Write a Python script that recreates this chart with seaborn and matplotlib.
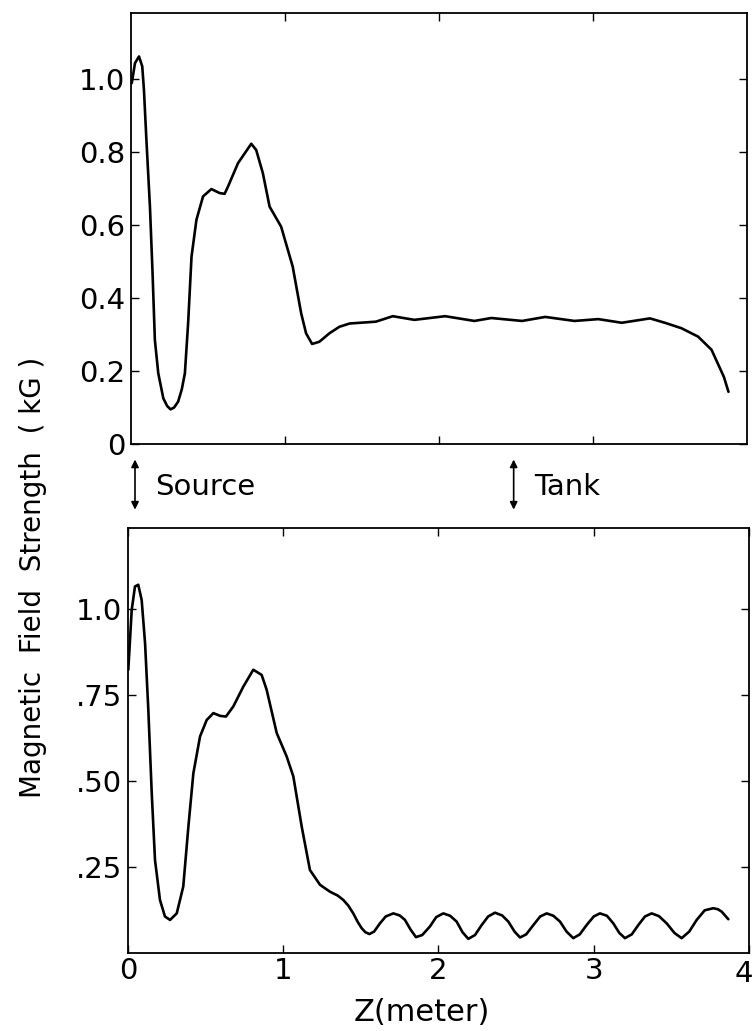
import numpy as np
import pandas as pd
import matplotlib
matplotlib.use("Agg")
import matplotlib.pyplot as plt
import seaborn as sns

# ---- data ----
z_top = [0.005, 0.026, 0.052, 0.073, 0.084, 0.10, 0.123, 0.14, 0.155, 0.177, 0.21, 0.235,
         0.257, 0.28, 0.306, 0.33, 0.35, 0.371, 0.393, 0.425, 0.468, 0.522, 0.576, 0.608,
         0.63, 0.695, 0.781, 0.813, 0.856, 0.90, 0.975, 1.05, 1.105, 1.137, 1.176, 1.223,
         1.288, 1.353, 1.42, 1.59, 1.70, 1.84, 2.04, 2.23, 2.34, 2.54, 2.69, 2.88, 3.035,
         3.187, 3.37, 3.467, 3.575, 3.683, 3.77, 3.81, 3.85, 3.88]
b_top = [0.988, 1.043, 1.061, 1.034, 0.970, 0.833, 0.650, 0.468, 0.285, 0.194, 0.125, 0.104,
         0.095, 0.100, 0.116, 0.150, 0.194, 0.331, 0.513, 0.614, 0.678, 0.698, 0.687, 0.685,
         0.705, 0.769, 0.822, 0.805, 0.742, 0.650, 0.595, 0.486, 0.358, 0.303, 0.274, 0.280,
         0.303, 0.321, 0.33, 0.335, 0.35, 0.34, 0.35, 0.337, 0.345, 0.337, 0.348, 0.337,
         0.342, 0.332, 0.344, 0.332, 0.317, 0.294, 0.258, 0.221, 0.184, 0.143]

z_bot = [0.002, 0.024, 0.045, 0.066, 0.088, 0.110, 0.131, 0.153, 0.174, 0.206, 0.238, 0.271,
         0.314, 0.356, 0.389, 0.421, 0.464, 0.507, 0.550, 0.593, 0.631, 0.678, 0.743, 0.807,
         0.861, 0.893, 0.958, 1.022, 1.065, 1.119, 1.172, 1.237, 1.301, 1.35, 1.387, 1.42,
         1.451, 1.48, 1.505, 1.53, 1.555, 1.585, 1.623, 1.66, 1.709, 1.75, 1.784, 1.82,
         1.855, 1.895, 1.945, 1.985, 2.031, 2.075, 2.117, 2.155, 2.192, 2.235, 2.278, 2.32,
         2.364, 2.41, 2.45, 2.49, 2.525, 2.565, 2.611, 2.655, 2.697, 2.74, 2.783, 2.825,
         2.868, 2.91, 2.954, 3.0, 3.04, 3.085, 3.126, 3.165, 3.201, 3.245, 3.287, 3.33,
         3.373, 3.42, 3.47, 3.52, 3.566, 3.615, 3.663, 3.715, 3.77, 3.80, 3.824, 3.867]
b_bot = [0.823, 0.997, 1.065, 1.070, 1.026, 0.900, 0.706, 0.464, 0.270, 0.154, 0.106, 0.096,
         0.115, 0.193, 0.367, 0.522, 0.629, 0.677, 0.697, 0.689, 0.687, 0.716, 0.774, 0.823,
         0.808, 0.765, 0.639, 0.571, 0.513, 0.367, 0.241, 0.198, 0.178, 0.167, 0.154, 0.137,
         0.115, 0.090, 0.072, 0.060, 0.055, 0.062, 0.086, 0.106, 0.115, 0.109, 0.096, 0.068,
         0.046, 0.052, 0.077, 0.104, 0.115, 0.108, 0.091, 0.060, 0.041, 0.052, 0.081, 0.106,
         0.117, 0.109, 0.091, 0.062, 0.045, 0.054, 0.081, 0.106, 0.115, 0.108, 0.091, 0.062,
         0.043, 0.054, 0.081, 0.106, 0.115, 0.108, 0.086, 0.058, 0.043, 0.054, 0.081, 0.106,
         0.115, 0.107, 0.086, 0.058, 0.043, 0.062, 0.096, 0.124, 0.130, 0.127, 0.120, 0.098]

top_yticks = [0, 0.2, 0.4, 0.6, 0.8, 1.0]
top_ylabels = ["0", "0.2", "0.4", "0.6", "0.8", "1.0"]
bot_yticks = [0.25, 0.50, 0.75, 1.0]
bot_ylabels = [".25", ".50", ".75", "1.0"]
xticks = [0, 1, 2, 3, 4]
xlabels = ["0", "1", "2", "3", "4"]
markers = [(0.026, "Source"), (2.485, "Tank")]

df_top = pd.DataFrame({"z": z_top, "B": b_top})
df_bot = pd.DataFrame({"z": z_bot, "B": b_bot})

sns.set_theme(style="ticks")
plt.rcParams["font.family"] = ["DejaVu Sans"]
plt.rcParams["text.color"] = "black"

fig = plt.figure(figsize=(7.52, 10.31), dpi=100)
ax1 = fig.add_axes([0.1742, 0.5693, 0.8191, 0.4181])
ax2 = fig.add_axes([0.1702, 0.0757, 0.8258, 0.4122])

for ax, df in ((ax1, df_top), (ax2, df_bot)):
    sns.lineplot(data=df, x="z", y="B", ax=ax, color="black", lw=1.9,
                 estimator=None, sort=False, solid_joinstyle="round")
    ax.set_xlim(0, 4)
    ax.set_xlabel("")
    ax.set_ylabel("")
    for s in ax.spines.values():
        s.set_linewidth(1.3)
        s.set_color("black")
    ax.tick_params(direction="in", top=True, right=True, length=6, width=1.0,
                   labelsize=21, colors="black", pad=4)

ax1.set_ylim(0, 1.18)
ax1.set_yticks(top_yticks)
ax1.set_yticklabels(top_ylabels)
ax1.set_xticks([1, 2, 3])
ax1.set_xticklabels([])

ax2.set_ylim(0, 1.235)
ax2.set_yticks(bot_yticks)
ax2.set_yticklabels(bot_ylabels)
ax2.set_xticks(xticks)
ax2.set_xticklabels(xlabels[:-1] + [""])
ax2.tick_params(axis="x", pad=3)
# last x label sits just inside the right edge, as in the original
ax2.annotate(xlabels[-1], xy=(xticks[-1], 0), xycoords=("data", "axes fraction"),
             xytext=(3, -5), textcoords="offset points", ha="right", va="top",
             fontsize=21, annotation_clip=False)

fig.text(0.561, 0.018, "Z(meter)", ha="center", va="center", fontsize=22)
fig.text(0.044, 0.440, "Magnetic  Field  Strength  ( kG )", rotation=90,
         ha="center", va="center", fontsize=20)

# Source / Tank markers
for xd, label in markers:
    ax1.annotate("", xy=(xd, 0.503), xycoords=("data", "figure fraction"),
                 xytext=(xd, 0.557), textcoords=("data", "figure fraction"),
                 arrowprops=dict(arrowstyle="<|-|>", color="black", lw=1.2,
                                 mutation_scale=11), annotation_clip=False)
    ax1.annotate(label, xy=(xd + 0.13, 0.528), xycoords=("data", "figure fraction"),
                 ha="left", va="center", fontsize=21, annotation_clip=False)

fig.savefig("out.png", dpi=100, facecolor="white")
